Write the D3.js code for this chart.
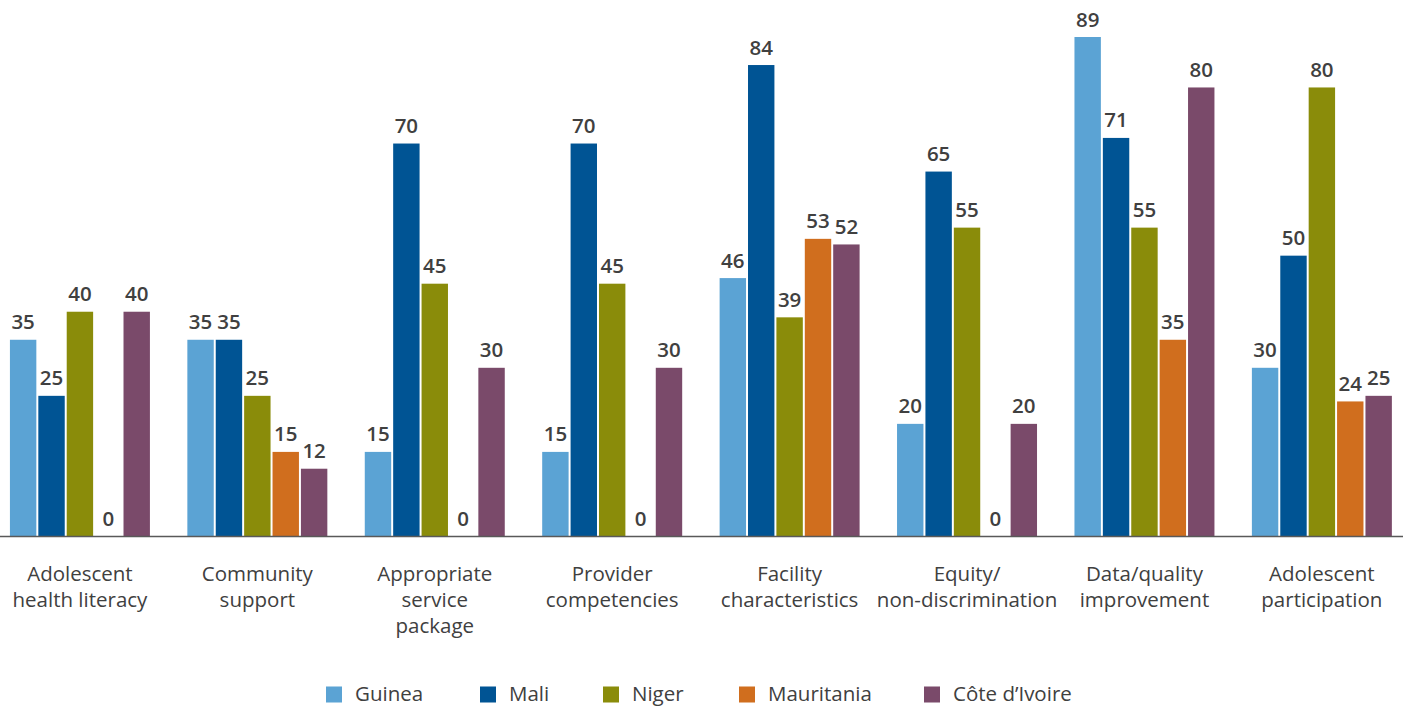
<!DOCTYPE html>
<html><head><meta charset="utf-8">
<script src="https://cdn.jsdelivr.net/npm/d3@7"></script>
<style>body{margin:0;background:#fff;} svg{display:block;}</style>
</head><body>
<svg id="chart" width="1403" height="707"></svg>
<script>
const categories = [
  ["Adolescent","health literacy"],
  ["Community","support"],
  ["Appropriate","service","package"],
  ["Provider","competencies"],
  ["Facility","characteristics"],
  ["Equity/","non-discrimination"],
  ["Data/quality","improvement"],
  ["Adolescent","participation"]
];
const seriesNames = ["Guinea","Mali","Niger","Mauritania","Côte d’Ivoire"];
const guinea     = [35,35,15,15,46,20,89,30];
const mali       = [25,35,70,70,84,65,71,50];
const niger      = [40,25,45,45,39,55,55,80];
const mauritania = [0,15,0,0,53,0,35,24];
const coteIvoire = [40,12,30,30,52,20,80,25];
const colors = ["#5BA3D4","#005494","#8A8C0A","#D06E1E","#7A4A6A"];

const values = [guinea, mali, niger, mauritania, coteIvoire];
const svg = d3.select("#chart");
const font = "'Open Sans', sans-serif";
const baseY = 536;

const x0 = d3.scaleBand().domain(d3.range(categories.length))
  .range([-8.7, 1410.5]).paddingInner(0.211).paddingOuter(0.105);
const x1 = d3.scaleBand().domain(d3.range(seriesNames.length))
  .range([0, x0.bandwidth()]).paddingInner(0.07).paddingOuter(0);
const y = d3.scaleLinear().domain([0, 89]).range([baseY, 37]);

const groups = svg.selectAll("g.grp").data(categories).join("g")
  .attr("transform", (d,i) => `translate(${x0(i)},0)`);

groups.each(function(cat, ci){
  const g = d3.select(this);
  seriesNames.forEach((s, si) => {
    const v = values[si][ci];
    g.append("rect")
      .attr("x", x1(si)).attr("width", x1.bandwidth())
      .attr("y", y(v)).attr("height", baseY - y(v))
      .attr("fill", colors[si]);
    g.append("text")
      .attr("x", x1(si) + x1.bandwidth()/2)
      .attr("y", y(v) - 10.5)
      .attr("text-anchor","middle")
      .attr("font-family", font).attr("font-weight", 600)
      .attr("font-size", 20.5).attr("fill", "#404040")
      .text(v);
  });
  const t = g.append("text").attr("text-anchor","middle")
    .attr("font-family", font).attr("font-size", 20.5).attr("fill","#404040");
  cat.forEach((line, li) => {
    t.append("tspan").attr("x", x0.bandwidth()/2).attr("y", 581 + li*26).text(line);
  });
});

svg.append("line").attr("x1", 0).attr("x2", 1403)
  .attr("y1", baseY + 0.5).attr("y2", baseY + 0.5)
  .attr("stroke", "#595959").attr("stroke-width", 1.5);

const legendX = [326, 480, 603, 739, 924];
const lg = svg.selectAll("g.leg").data(seriesNames).join("g")
  .attr("transform", (d,i) => `translate(${legendX[i]},686.5)`);
lg.append("rect").attr("width", 16).attr("height", 16).attr("fill", (d,i)=>colors[i]);
lg.append("text").attr("x", 29).attr("y", 14.5)
  .attr("font-family", font).attr("font-size", 20.5).attr("fill","#404040")
  .text(d => d);
</script>
</body></html>
